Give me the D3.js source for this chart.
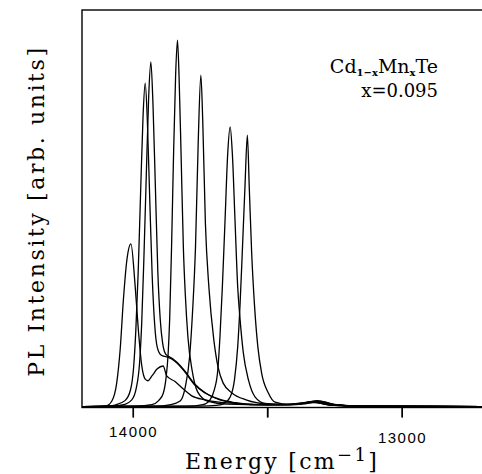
<!DOCTYPE html>
<html>
<head>
<meta charset="utf-8">
<script src="https://cdn.jsdelivr.net/npm/d3@7"></script>
<style>
  body { margin: 0; background: #fff; }
  text { fill: #000; }
</style>
</head>
<body>
<div id="plchart"></div>
<script>
// spectra: [energy cm^-1, intensity arb.]
var specA = [[14190,0.1],[14100,0.3],[14079,1.5],[14061,6],[14048,14.5],[14036,27],[14023,37],[14008,41],
  [13993,31],[13980,19],[13968,10.5],[13955,7],[13945,6.6],[13930,7.8],[13910,9.6],[13888,10.3],[13875,7.8],
  [13844,6.4],[13813,4.5],[13782,2.8],[13732,1.8],[13680,1.2],[13600,0.8],[13500,0.6],[13420,0.6],
  [13330,1.1],[13260,0.5],[13150,0.2],[12695,0.1]];

var specB = [[14190,0.1],[14100,0.2],[14067,0.5],[14030,1.6],[14010,4.2],[13998,10],[13990,19],[13981,34],
  [13972,54],[13963,73],[13955,81.4],[13947,72],[13938,52],[13929,33],[13920,21],[13910,15],[13895,13],
  [13875,12.6],[13855,12],[13836,11],[13807,8.8],[13770,5.5],[13732,3.5],[13677,1.8],[13620,1],[13550,0.6],
  [13430,0.6],[13330,1.3],[13270,0.5],[13150,0.2],[12695,0.1]];

var specC = [[14190,0.1],[14100,0.2],[14040,0.5],[14005,1.8],[13988,4.8],[13976,11],[13968,21],[13960,37],
  [13951,58],[13942,78],[13934,86.7],[13926,76],[13917,55],[13908,34],[13899,22],[13890,16],[13878,13.2],
  [13865,12.6],[13850,12],[13836,11.2],[13807,9],[13770,5.7],[13732,3.6],[13677,1.9],[13620,1.1],[13550,0.6],
  [13430,0.6],[13330,1.2],[13270,0.5],[13150,0.2],[12695,0.1]];

var specD = [[14190,0.1],[13990,0.2],[13930,0.6],[13905,1.6],[13888,3.4],[13878,7],[13870,13],[13864,22],
  [13857,40],[13850,62],[13842,83],[13835,92.2],[13829,83],[13821,62],[13813,40],[13806,28.5],[13796,17.5],
  [13780,9],[13760,3.8],[13720,1.4],[13650,0.7],[13500,0.5],[13400,0.6],[13320,1.4],[13260,0.6],
  [13150,0.2],[12695,0.1]];

var specE = [[14190,0.1],[13920,0.2],[13860,0.6],[13825,1.5],[13806,5],[13790,12.5],[13778,25],[13768,40],
  [13758,66],[13748,83.4],[13741,72],[13731,46],[13718,30],[13700,17],[13684,10],[13665,6],[13630,3.4],
  [13580,1.8],[13500,0.8],[13400,0.7],[13320,1.5],[13260,0.7],[13150,0.2],[12695,0.1]];

var specF = [[14190,0.1],[13800,0.2],[13740,0.6],[13714,1.8],[13698,4.3],[13685,9.3],[13677,17.6],[13668,30.2],
  [13658,47],[13648,63.8],[13639,70.4],[13631,63.8],[13621,47],[13611,30.2],[13602,21.9],[13590,13.6],
  [13571,6.8],[13546,2.5],[13509,0.9],[13440,0.6],[13380,0.8],[13315,1.6],[13250,0.6],[13150,0.2],[12695,0.1]];

var specG = [[14190,0.1],[13750,0.2],[13690,0.4],[13664,0.8],[13639,2.5],[13623,6.8],[13611,15.1],[13602,26.1],
  [13594,38.7],[13584,55.3],[13575,68.3],[13568,55.3],[13559,38.7],[13549,26.1],[13536,15.1],[13522,8.5],
  [13497,3.5],[13472,1.2],[13420,0.6],[13360,0.8],[13305,1.4],[13240,0.5],[13150,0.2],[12695,0.1]];

var spectra = [specA, specB, specC, specD, specE, specF, specG];

var xTicks = [14000, 13500, 13000];
var xTickLabels = ["14000", "", "13000"];

var W = 482, H = 474;
var plotL = 82, plotT = 10, plotR = 484, plotB = 407.5;

var svg = d3.select("#plchart")
  .append("svg")
    .attr("width", W)
    .attr("height", H)
    .style("font-family", "'DejaVu Serif', serif");

// energy axis runs high -> low
var x = d3.scaleLinear()
  .domain([14190, 12695])
  .range([plotL, plotR]);

var y = d3.scaleLinear()
  .domain([0, 100])
  .range([407, 9]);

// curves
var line = d3.line()
  .x(function(d) { return x(d[0]); })
  .y(function(d) { return y(d[1]); })
  .curve(d3.curveMonotoneX);

svg.append("g")
  .selectAll("path")
  .data(spectra)
  .enter()
  .append("path")
    .attr("d", line)
    .attr("fill", "none")
    .attr("stroke", "#000")
    .attr("stroke-width", 1.3)
    .attr("stroke-linejoin", "round");

// frame (right side falls outside the picture)
svg.append("rect")
  .attr("x", plotL)
  .attr("y", plotT)
  .attr("width", plotR - plotL + 4)
  .attr("height", plotB - plotT)
  .attr("fill", "none")
  .attr("stroke", "#000")
  .attr("stroke-width", 1.4);

// x axis labels
var xAxis = d3.axisBottom(x)
  .tickValues(xTicks)
  .tickSize(10)
  .tickPadding(9)
  .tickFormat(function(d, i) { return xTickLabels[i]; });

var gx = svg.append("g")
  .attr("transform", "translate(0," + plotB + ")")
  .call(xAxis);
gx.select(".domain").remove();
gx.selectAll("text")
  .style("font-family", "'Liberation Sans', Arial, sans-serif")
  .style("font-size", "15px")
  .style("letter-spacing", "1.5px")
  .attr("transform", function(d) { return d === 13000 ? "translate(0,6)" : null; });

// tick marks hanging below the frame
svg.append("g")
  .selectAll("line")
  .data(xTicks)
  .enter()
  .append("line")
    .attr("x1", function(d) { return x(d); })
    .attr("x2", function(d) { return x(d); })
    .attr("y1", plotB)
    .attr("y2", plotB + 10)
    .attr("stroke", "#000")
    .attr("stroke-width", 1.4);

// axis titles
var xt = svg.append("text")
  .attr("x", 282)
  .attr("y", 469)
  .attr("text-anchor", "middle")
  .style("font-size", "22px")
  .style("letter-spacing", "2.3px");
xt.append("tspan").text("Energy  [cm");
xt.append("tspan").attr("dy", -8).style("font-size", "18px").text("\u22121");
xt.append("tspan").attr("dy", 8).text("]");

svg.append("text")
  .attr("transform", "translate(44,211) rotate(-90)")
  .attr("text-anchor", "middle")
  .style("font-size", "22px")
  .style("letter-spacing", "2.6px")
  .text("PL Intensity [arb. units]");

// sample label
var lab = svg.append("text")
  .attr("x", 438)
  .attr("y", 73)
  .attr("text-anchor", "end")
  .style("font-size", "19px");
lab.append("tspan").text("Cd");
lab.append("tspan").attr("dy", 2.5).style("font-size", "10px").style("font-weight", "bold").text("1\u2212x");
lab.append("tspan").attr("dy", -2.5).text("Mn");
lab.append("tspan").attr("dy", 2.5).style("font-size", "10px").style("font-weight", "bold").text("x");
lab.append("tspan").attr("dy", -2.5).text("Te");

svg.append("text")
  .attr("x", 438)
  .attr("y", 97)
  .attr("text-anchor", "end")
  .style("font-size", "18px")
  .text("x=0.095");
</script>
</body>
</html>
